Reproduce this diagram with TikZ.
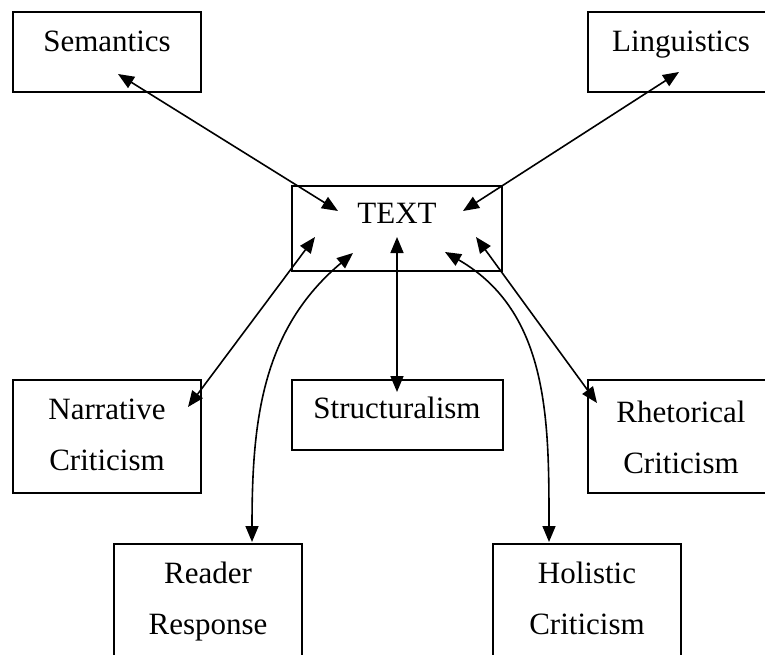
\documentclass[tikz,border=0pt]{standalone}
\usepackage{fontspec}
\setmainfont{Liberation Serif}
\usetikzlibrary{arrows.meta}
\begin{document}
\begin{tikzpicture}[x=1pt,y=-1pt,
	box/.style={draw,rectangle,line width=2pt,minimum width=188pt,minimum height=113pt,inner sep=0pt},
	word/.style={font=\fontsize{31}{51}\selectfont,align=center,inner sep=0pt},
	link/.style={{Triangle[length=16pt,width=13pt]}-{Triangle[length=16pt,width=13pt]},line width=1.6pt}]
	\useasboundingbox (0,0) rectangle (765,655);

	\node[box,minimum height=80pt] (semBox) at (107,52) {};
	\node[box,minimum height=80pt] (lingBox) at (682,52) {};
	\node[box,minimum width=210pt,minimum height=85pt] (textBox) at (397,228.5) {};
	\node[box] (narrBox) at (107,436.5) {};
	\node[box,minimum width=211pt,minimum height=70pt] (structBox) at (397.5,415) {};
	\node[box] (rhetBox) at (682,436.5) {};
	\node[box] (readBox) at (208,600.5) {};
	\node[box] (holBox) at (586.5,600.5) {};

	\node[word,anchor=base] (sem) at (107,52) {Semantics};
	\node[word,anchor=base] (ling) at (681,52) {Linguistics};
	\node[word,anchor=base] (txt) at (397,223) {TEXT};
	\node[word,anchor=base] (struct) at (397,418) {Structuralism};
	\node[word] (narr) at (107,435) {Narrative\\Criticism};
	\node[word] (rhet) at (681,437) {Rhetorical\\Criticism};
	\node[word] (read) at (208,602) {Reader\\Response};
	\node[word] (hol) at (587,598) {Holistic\\Criticism};

	\coordinate (semEnd) at (118,74);
	\coordinate (lingEnd) at (679,72);
	\coordinate (narrEnd) at (188,407);
	\coordinate (structEnd) at (397,392);
	\coordinate (rhetEnd) at (597,403);
	\coordinate (readEnd) at (252,542);
	\coordinate (holEnd) at (549,542);
	\coordinate (txtSem) at (338,211);
	\coordinate (txtLing) at (463,211);
	\coordinate (txtNarr) at (315,237);
	\coordinate (txtStruct) at (397,237);
	\coordinate (txtRhet) at (476,237);
	\coordinate (txtRead) at (353,253);
	\coordinate (txtHol) at (445,252);

	\draw[link] (semEnd) -- (txtSem);
	\draw[link] (lingEnd) -- (txtLing);
	\draw[link] (narrEnd) -- (txtNarr);
	\draw[link] (structEnd) -- (txtStruct);
	\draw[link] (rhetEnd) -- (txtRhet);
	\draw[link] (readEnd) to[out=90,in=-140] (txtRead);
	\draw[link] (holEnd) to[out=90,in=-30] (txtHol);
\end{tikzpicture}
\end{document}
